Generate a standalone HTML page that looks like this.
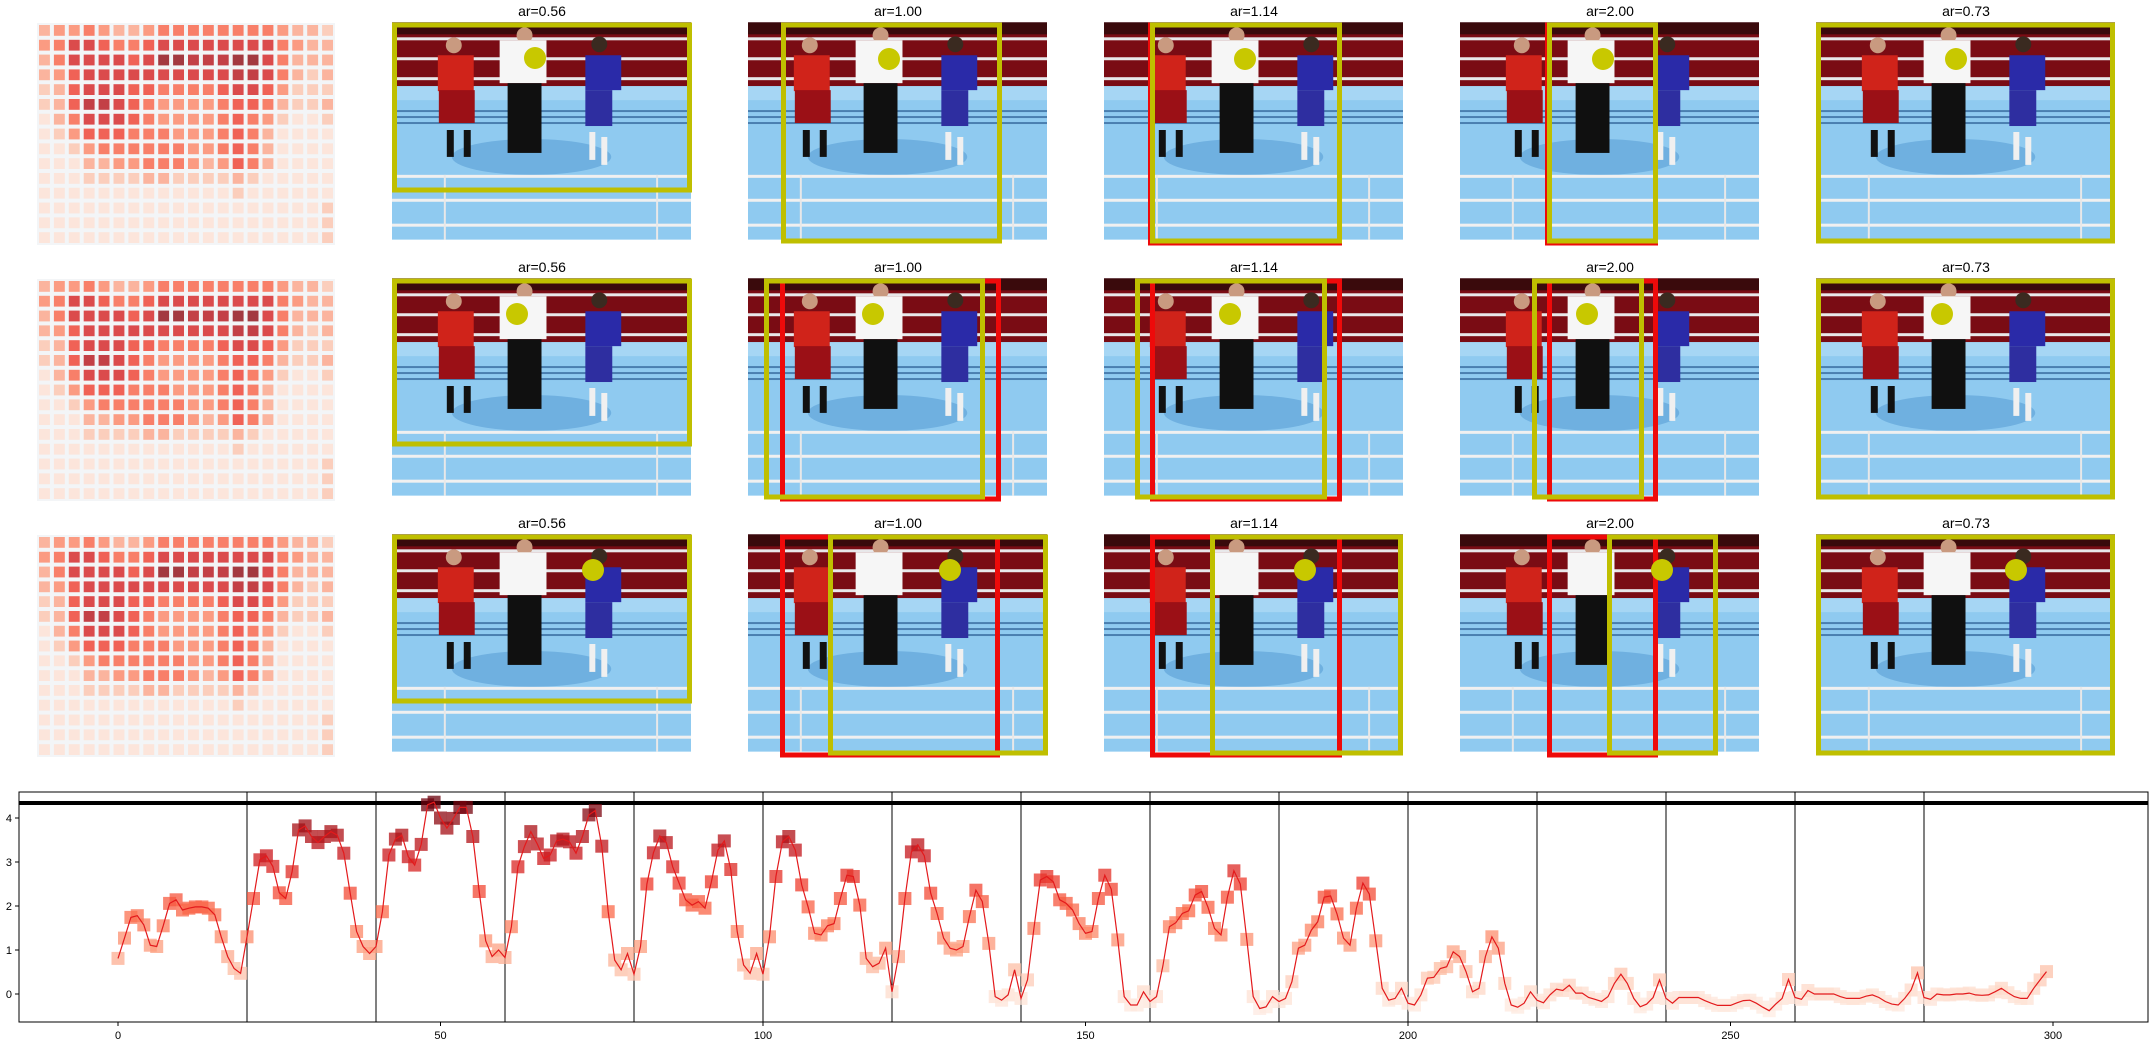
<!DOCTYPE html>
<html><head><meta charset="utf-8"><style>
html,body{margin:0;padding:0;background:#fff;}
svg{display:block;font-family:"Liberation Sans","DejaVu Sans",sans-serif;}
</style></head><body>
<svg id="root" width="2152" height="1046" viewBox="0 0 2152 1046" xmlns="http://www.w3.org/2000/svg">
<defs>
<symbol id="photo" viewBox="0 0 300 218">
  <rect x="0" y="0" width="300" height="218" fill="#8fcaf0"/>
  <rect x="0" y="0" width="300" height="64" fill="#7a0c14"/>
  <rect x="0" y="0" width="300" height="12" fill="#3a0a0c"/>
  <rect x="0" y="15" width="300" height="3" fill="#e8e8ea"/>
  <rect x="0" y="35" width="300" height="3" fill="#e8e8ea"/>
  <rect x="0" y="55" width="300" height="3" fill="#e8e8ea"/>
  <rect x="0" y="64" width="300" height="14" fill="#a6d6f4"/>
  <rect x="0" y="88" width="300" height="2" fill="#4a7fb0"/>
  <rect x="0" y="94" width="300" height="2" fill="#4a7fb0"/>
  <rect x="0" y="100" width="300" height="2" fill="#4a7fb0"/>
  <ellipse cx="140" cy="135" rx="80" ry="18" fill="#6fb0e0"/>
  <rect x="0" y="153" width="300" height="3" fill="#f0f0f0"/>
  <rect x="0" y="177" width="300" height="3" fill="#f0f0f0"/>
  <rect x="0" y="202" width="300" height="3" fill="#f0f0f0"/>
  <rect x="52" y="153" width="2" height="65" fill="#e8e8e8"/>
  <rect x="265" y="153" width="2" height="65" fill="#e8e8e8"/>
  <circle cx="62" cy="23" r="8" fill="#c99a80"/>
  <rect x="46" y="33" width="36" height="36" fill="#d0231a"/>
  <rect x="47" y="68" width="36" height="33" fill="#9b1016"/>
  <rect x="55" y="108" width="7" height="27" fill="#111"/>
  <rect x="72" y="108" width="7" height="27" fill="#111"/>
  <circle cx="133" cy="13" r="8" fill="#c99a80"/>
  <rect x="108" y="18" width="47" height="43" fill="#f6f6f6"/>
  <rect x="116" y="61" width="34" height="70" fill="#101010"/>
  <circle cx="208" cy="22" r="8" fill="#3a2a20"/>
  <rect x="194" y="33" width="36" height="35" fill="#2a2aa8"/>
  <rect x="194" y="68" width="27" height="36" fill="#2e2ea0"/>
  <rect x="198" y="110" width="6" height="28" fill="#f0f0f0"/>
  <rect x="210" y="115" width="6" height="28" fill="#f0f0f0"/>
</symbol>
</defs>
<g id="heatmaps"></g>
<g id="panels"></g>
<g id="chart"></g>
</svg>
<script>
// ---- heatmap data (15 rows x 20 cols, intensity 0..9) ----
const heatRows = [
[3,4,4,5,4,3,3,4,5,5,5,5,5,5,5,5,4,3,3,2],
[4,5,7,7,6,5,5,6,7,7,7,7,7,7,7,7,5,4,3,3],
[3,5,7,7,7,7,6,7,9,9,8,8,8,9,9,7,5,3,3,3],
[3,4,6,7,7,7,7,7,7,7,7,7,7,8,8,7,5,3,2,3],
[2,3,6,7,7,7,6,6,5,5,5,5,6,7,7,6,4,2,2,2],
[2,3,6,8,8,7,6,5,4,4,4,4,5,6,6,5,3,2,2,3],
[1,3,5,7,7,7,6,5,4,4,4,4,5,6,5,4,2,1,1,2],
[1,2,4,6,6,6,5,5,5,4,4,4,5,6,5,3,1,1,1,1],
[1,1,2,4,5,5,5,5,5,5,4,4,5,6,5,3,1,1,1,1],
[1,1,1,3,3,4,4,5,5,5,4,3,4,6,5,3,1,1,1,1],
[1,1,1,2,2,2,2,3,3,2,2,2,2,3,2,1,1,1,1,1],
[1,1,1,1,1,1,1,1,1,1,1,1,1,2,1,1,1,1,1,1],
[1,1,1,1,1,1,1,1,1,1,1,1,1,1,1,1,1,1,1,2],
[1,1,1,1,1,1,1,1,1,1,1,1,1,1,1,1,1,1,1,2],
[1,1,1,1,1,1,1,1,1,1,1,1,1,1,1,1,1,1,1,2]
];
// ---- panel data ----
const arLabels = ["0.56","1.00","1.14","2.00","0.73"];
const yellowX = [
 [[392,692],[781,1002],[1150,1342],[1547,1658],[1816,2115]],
 [[392,692],[764,985],[1135,1327],[1532,1644],[1816,2115]],
 [[392,692],[828,1048],[1210,1403],[1607,1718],[1816,2115]]
];
const yellowBottom = [[192,243,243,243,243],[446,499,499,499,499],[703,755,755,755,755]];
const redX = [
 [null,null,[1148,1342],[1545,1658],null],
 [null,[780,1001],[1150,1342],[1547,1658],null],
 [null,[780,1000],[1150,1342],[1547,1658],null]
];
const dots = [
 [[535,58],[889,59],[1245,59],[1603,59],[1956,59]],
 [[517,314],[873,314],[1230,314],[1587,314],[1942,314]],
 [[593,570],[950,570],[1305,570],[1662,570],[2016,570]]
];
// ---- line chart data ----
const xTicks = [0,50,100,150,200,250,300];
const yTicks = [0,1,2,3,4];
const vlines = [20,40,60,80,100,120,140,160,180,200,220,240,260,280];
const values = [
0.81,1.27,1.74,1.78,1.57,1.11,1.08,1.55,2.06,2.14,1.91,1.95,1.98,1.98,1.95,1.8,1.3,0.85,0.58,0.47,
1.3,2.17,3.05,3.14,2.9,2.3,2.17,2.78,3.73,3.82,3.58,3.44,3.58,3.69,3.61,3.2,2.29,1.42,1.08,0.92,
1.08,1.87,3.16,3.52,3.61,3.12,2.93,3.4,4.3,4.36,4.0,3.77,3.99,4.24,4.24,3.58,2.33,1.21,0.85,1.0,
0.83,1.53,2.89,3.35,3.69,3.41,3.08,3.16,3.48,3.52,3.46,3.2,3.58,4.07,4.17,3.36,1.87,0.77,0.55,0.92,
0.45,1.08,2.5,3.21,3.59,3.44,2.89,2.52,2.14,2.02,2.1,1.95,2.55,3.27,3.48,2.83,1.42,0.66,0.47,0.92,
0.45,1.3,2.67,3.46,3.58,3.27,2.48,1.98,1.38,1.34,1.55,1.6,2.17,2.7,2.67,2.02,0.81,0.62,0.7,1.04,
0.05,0.85,2.17,3.23,3.39,3.14,2.29,1.83,1.27,1.04,1.0,1.08,1.76,2.36,2.1,1.15,-0.06,-0.14,-0.02,0.55,
-0.1,0.32,1.49,2.59,2.67,2.55,2.14,2.06,1.91,1.6,1.38,1.42,2.17,2.7,2.38,1.23,-0.06,-0.25,-0.25,0.05,
-0.17,-0.06,0.64,1.53,1.62,1.83,1.89,2.25,2.33,1.97,1.49,1.34,2.2,2.8,2.5,1.24,-0.06,-0.33,-0.29,-0.06,
-0.17,-0.1,0.28,1.04,1.11,1.45,1.64,2.2,2.23,1.82,1.27,1.11,1.95,2.52,2.27,1.21,0.13,-0.14,-0.1,0.13,
-0.21,-0.25,-0.02,0.36,0.38,0.58,0.62,0.96,0.85,0.51,0.05,0.13,0.85,1.3,1.04,0.24,-0.25,-0.3,-0.21,0.05,
-0.14,-0.2,-0.02,0.11,0.08,0.2,0.02,0.02,-0.08,-0.12,-0.17,-0.06,0.24,0.45,0.24,-0.1,-0.29,-0.23,-0.08,0.32,
-0.1,-0.21,-0.08,-0.08,-0.08,-0.08,-0.15,-0.21,-0.26,-0.26,-0.26,-0.2,-0.15,-0.14,-0.21,-0.3,-0.38,-0.23,-0.1,0.33,
-0.08,-0.12,0.08,0,0,0,0,-0.06,-0.1,-0.1,-0.1,-0.05,-0.02,-0.08,-0.17,-0.23,-0.25,-0.1,0.09,0.48,
-0.08,-0.12,0,-0.02,-0.02,0,0,0.02,-0.02,-0.03,-0.02,0.05,0.13,0.03,-0.06,-0.1,-0.1,0.13,0.32,0.51
];

const NS = "http://www.w3.org/2000/svg";
function mk(tag, attrs, parent){const e=document.createElementNS(NS,tag);for(const k in attrs)e.setAttribute(k,attrs[k]);parent.appendChild(e);return e;}
const stops=[[255,245,240],[254,224,210],[252,187,161],[252,146,114],[251,106,74],[239,59,44],[203,24,29],[165,15,21],[103,0,13]];
function reds(t){t=Math.max(0,Math.min(1,t))*(stops.length-1);const i=Math.min(Math.floor(t),stops.length-2);const f=t-i;const a=stops[i],b=stops[i+1];return `rgb(${Math.round(a[0]+(b[0]-a[0])*f)},${Math.round(a[1]+(b[1]-a[1])*f)},${Math.round(a[2]+(b[2]-a[2])*f)})`;}

// heatmaps
const hg=document.getElementById('heatmaps');
const heatTops=[23,279,535];
heatTops.forEach((top,r)=>{
  const g=mk('g',{},hg);
  
  
  const bg=mk('rect',{x:37,y:top,width:298,height:222,fill:'#f3f5f7'},g);
  
  
  const cw=298/20, ch=222/15;
  heatRows.forEach((row,ri)=>row.forEach((v,ci)=>{
    const c=mk('rect',{x:(37+ci*cw+2).toFixed(1),y:(top+ri*ch+2).toFixed(1),width:(cw-4).toFixed(1),height:(ch-4).toFixed(1),fill:reds(0.02+0.9*v/9),'fill-opacity':0.8},g);
    
    
  }));
});

// photo panels
const pg=document.getElementById('panels');
const colX=[392,748,1104,1460,1816];
const rowY=[22,278,534];
const titleY=[16,272,528];
for(let r=0;r<3;r++){for(let c=0;c<5;c++){
  const g=mk('g',{},pg);
  
  
  const u=mk('use',{href:'#photo',x:colX[c],y:rowY[r],width:299,height:218},g);
  
  
  const t=mk('text',{x:colX[c]+150,y:titleY[r],'text-anchor':'middle','font-size':'14',fill:'#000'},g);
  t.textContent='ar='+arLabels[c];
  
  
  const top=rowY[r]+1;
  if(redX[r][c]){const rx=redX[r][c];
    const rb=mk('rect',{x:rx[0]+2.5,y:top+2,width:rx[1]-rx[0]-5,height:yellowBottom[r][c]-top-2,fill:'none',stroke:'#ee0a0a','stroke-width':5},g);
    
    }
  const yx=yellowX[r][c];
  const yb=mk('rect',{x:yx[0]+2.5,y:top+2,width:yx[1]-yx[0]-5,height:yellowBottom[r][c]-top-4,fill:'none',stroke:'#bfbf00','stroke-width':5},g);
  
  
  const d=mk('circle',{cx:dots[r][c][0],cy:dots[r][c][1],r:11,fill:'#c8c800'},g);
  
  
}}

// line chart
const cg=document.getElementById('chart');
const L=19,R=2148,T=792,B=1022;
const xs=i=>118+6.45*i;
const ys=v=>994-44*v;
vlines.forEach(v=>{const l=mk('line',{x1:xs(v),x2:xs(v),y1:T,y2:B,stroke:'#000','stroke-width':1},cg);
  
  });
const thick=mk('line',{x1:L,x2:R,y1:803,y2:803,stroke:'#000','stroke-width':4},cg);


const pts=values.map((v,i)=>xs(i).toFixed(1)+','+ys(v).toFixed(1)).join(' ');
values.forEach((v,i)=>{const t=(v+0.4)/4.8;
  const m=mk('rect',{x:(xs(i)-6.5).toFixed(1),y:(ys(v)-6.5).toFixed(1),width:13,height:13,fill:reds(0.05+0.95*t),'fill-opacity':0.75},cg);
  
  });
const pl=mk('polyline',{points:pts,fill:'none',stroke:'#e31a1c','stroke-width':1.2},cg);


const frame=mk('rect',{x:L,y:T,width:R-L,height:B-T,fill:'none',stroke:'#000','stroke-width':1},cg);


xTicks.forEach(v=>{
  const tk=mk('line',{x1:xs(v),x2:xs(v),y1:B,y2:B+4,stroke:'#000'},cg);
  
  
  const lb=mk('text',{x:xs(v),y:B+17,'text-anchor':'middle','font-size':'11',fill:'#000'},cg);
  lb.textContent=v;
  
  });
yTicks.forEach(v=>{
  const tk=mk('line',{x1:L-4,x2:L,y1:ys(v),y2:ys(v),stroke:'#000'},cg);
  
  
  const lb=mk('text',{x:L-7,y:ys(v)+4,'text-anchor':'end','font-size':'11',fill:'#000'},cg);
  lb.textContent=v;
  
  });
</script>
</body></html>
